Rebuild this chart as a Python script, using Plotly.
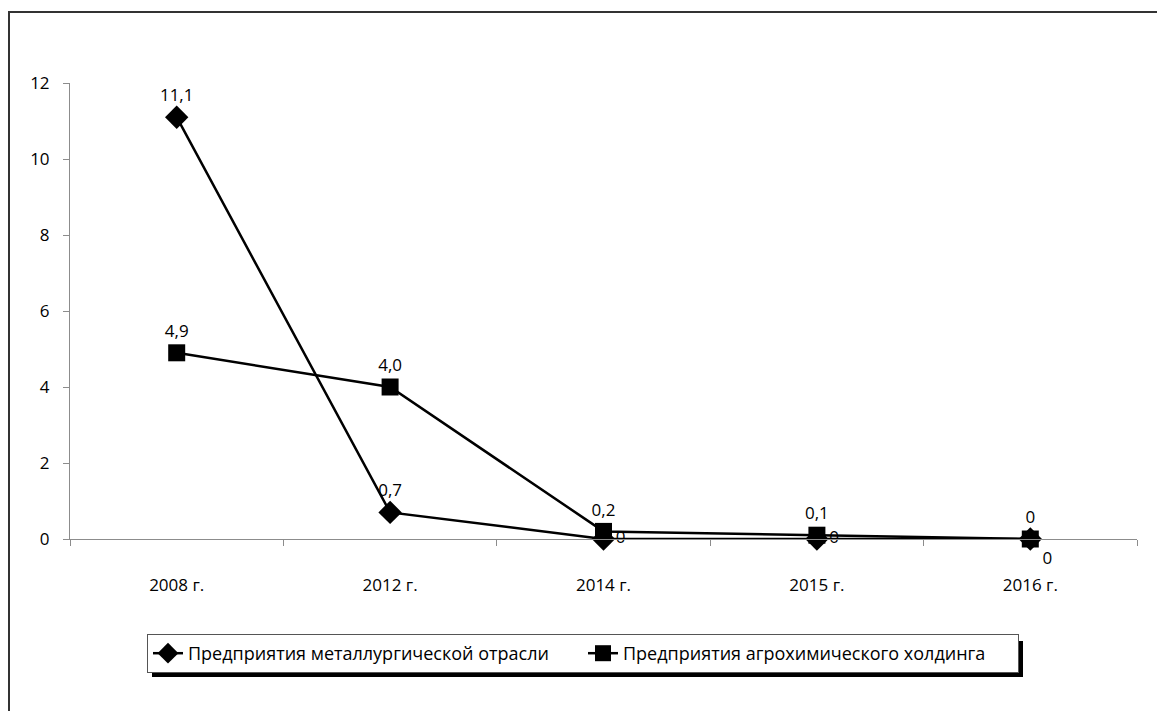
import plotly.graph_objects as go

years = ["2008 г.", "2012 г.", "2014 г.", "2015 г.", "2016 г."]
metal = [11.1, 0.7, 0, 0, 0]
agro = [4.9, 4.0, 0.2, 0.1, 0]
metal_name = "Предприятия металлургической отрасли"
agro_name = "Предприятия агрохимического холдинга"


def fmt(v):
    return "0" if v == 0 else f"{v:.1f}".replace(".", ",")


FONT = "Open Sans, Noto Sans, sans-serif"
W, H = 1157, 711
L_pg, R_pg, T_pg, B_pg = 70, 1137, 83, 539
L, T = L_pg, T_pg
R = W - R_pg
B = H - B_pg
pw, ph = W - L - R, H - T - B


def px(x):  # page x -> paper
    return (x - L_pg) / pw


def py(y):  # page y -> paper
    return (B_pg - y) / ph


fig = go.Figure()
fig.add_trace(go.Scatter(
    x=years, y=metal, name=metal_name, mode="lines+markers+text",
    line=dict(color="black", width=2.5),
    marker=dict(symbol="diamond", size=18, color="black"),
    text=[fmt(v) for v in metal],
    textposition=["top center", "top center", "middle right", "middle right", "bottom right"],
    textfont=dict(family=FONT, size=17, color="black"),
    cliponaxis=False,
))
fig.add_trace(go.Scatter(
    x=years, y=agro, name=agro_name, mode="lines+markers+text",
    line=dict(color="black", width=2.5),
    marker=dict(symbol="square", size=17, color="black"),
    text=[fmt(v) for v in agro],
    textposition="top center",
    textfont=dict(family=FONT, size=17, color="black"),
    cliponaxis=False,
))

shapes = [
    dict(type="line", xref="paper", yref="paper", x0=px(9), x1=px(9), y0=py(12), y1=py(720),
         line=dict(color="#333333", width=2)),
    dict(type="line", xref="paper", yref="paper", x0=px(8), x1=px(1165), y0=py(12), y1=py(12),
         line=dict(color="#333333", width=2)),
    dict(type="rect", xref="paper", yref="paper", x0=px(152), x1=px(1023), y0=py(641), y1=py(677),
         fillcolor="black", line=dict(width=0), layer="below"),
]

fig.update_layout(
    width=W, height=H,
    margin=dict(l=L, r=R, t=T, b=B),
    paper_bgcolor="white", plot_bgcolor="white",
    font=dict(family=FONT, size=17, color="black"),
    showlegend=True,
    legend=dict(orientation="h", x=px(147), xanchor="left", y=py(634), yanchor="top",
                bgcolor="white", bordercolor="#555555", borderwidth=1,
                font=dict(family=FONT, size=18, color="black"),
                entrywidth=390, entrywidthmode="pixels", tracegroupgap=0),
    shapes=shapes,
    xaxis=dict(type="category", range=[-0.5, 4.5], showgrid=False, zeroline=False,
               showline=True, linecolor="#8c8c8c", linewidth=1,
               ticks="outside", ticklen=6, tickcolor="#8c8c8c", tickson="boundaries",
               ticklabelstandoff=31, tickfont=dict(size=17, color="black")),
    yaxis=dict(range=[0, 12], dtick=2, showgrid=False, zeroline=False,
               showline=True, linecolor="#8c8c8c", linewidth=1,
               ticks="outside", ticklen=6, tickcolor="#8c8c8c",
               ticklabelstandoff=10, tickfont=dict(size=17, color="black")),
)

fig.write_html("out.html", config={"displayModeBar": False},
               post_script="document.body.style.margin='0';document.body.style.overflow='hidden';")
